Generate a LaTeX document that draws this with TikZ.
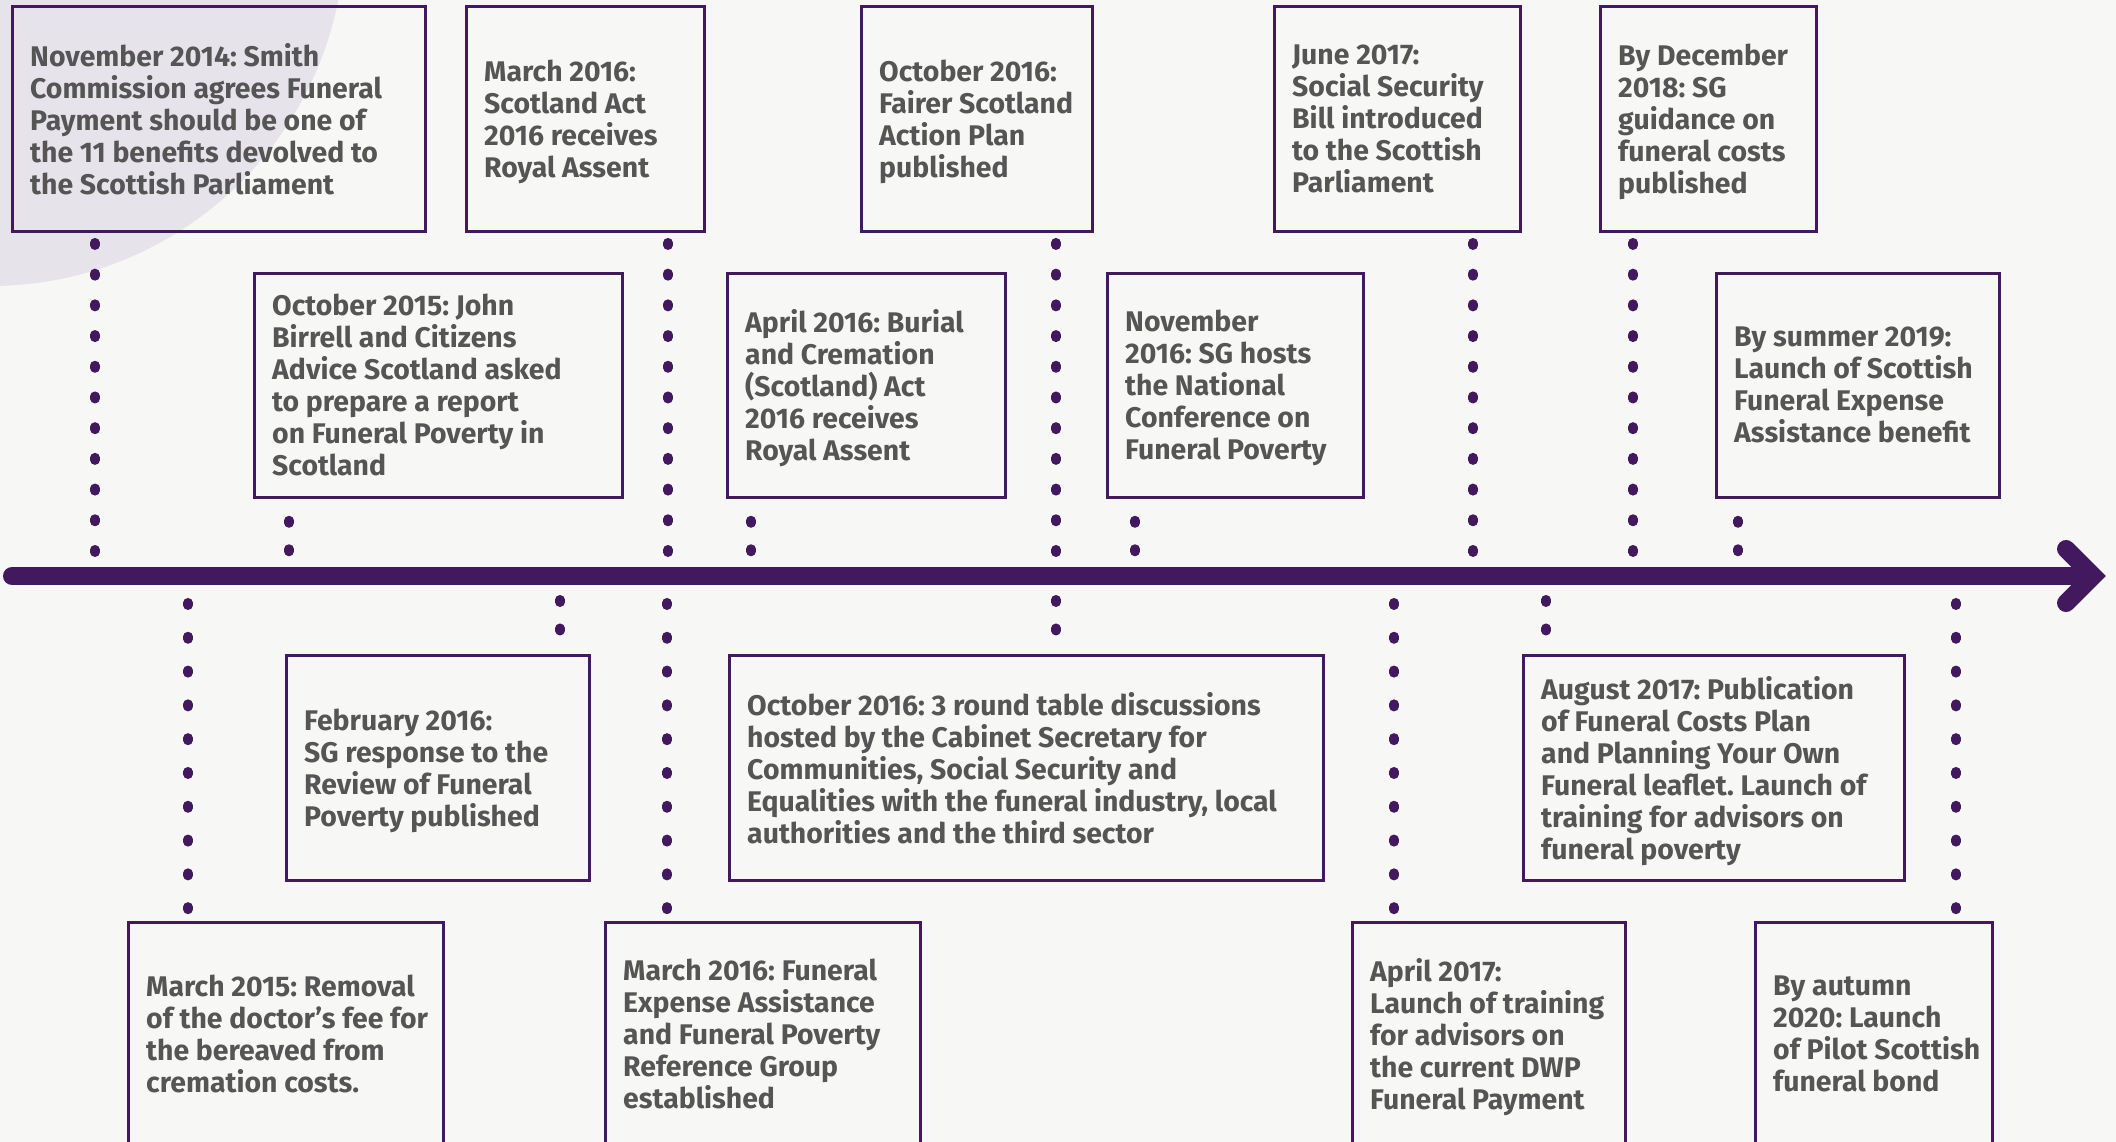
\documentclass[tikz,border=0pt]{standalone}
\usepackage{fontspec}
\setmainfont{Fira Sans}
\definecolor{pur}{RGB}{66,25,94}
\definecolor{bgc}{RGB}{247,247,245}
\definecolor{lav}{RGB}{231,227,235}
\definecolor{txt}{RGB}{85,85,85}
\begin{document}
\frenchspacing
\begin{tikzpicture}[x=1pt,y=-1pt,
  evbox/.style={draw=pur, line width=3pt, outer sep=0pt, inner sep=0pt},
  evtext/.style={anchor=west, inner sep=0pt, align=left, text=txt,
    font=\fontsize{28.4}{32}\selectfont\bfseries},
  dotA/.style={draw=pur, line width=9.5pt, line cap=round, dash pattern=on 2.5pt off 28.2pt},
  dotB/.style={draw=pur, line width=9.5pt, line cap=round, dash pattern=on 2.5pt off 31.3pt},
  dotS/.style={draw=pur, line width=9.5pt, line cap=round, dash pattern=on 2.5pt off 26pt},
  mainline/.style={draw=pur, line width=18pt, line cap=round, line join=miter}]
\useasboundingbox (0,0) rectangle (2116,1142);
\begin{scope}
\clip (0,0) rectangle (2116,1142);
\fill[bgc] (0,0) rectangle (2116,1142);
\fill[lav] (-10,-69) circle (355pt);

% boxes row 1
\node[evbox, minimum width=413pt, minimum height=224pt] (b1) at (218.5,119) {};
\node[evbox, minimum width=238pt, minimum height=224pt] (b2) at (585,119) {};
\node[evbox, minimum width=231pt, minimum height=224pt] (b3) at (976.5,119) {};
\node[evbox, minimum width=246pt, minimum height=224pt] (b4) at (1397,119) {};
\node[evbox, minimum width=216pt, minimum height=224pt] (b5) at (1708,119) {};
% row 2
\node[evbox, minimum width=368pt, minimum height=224pt] (b6) at (438,385) {};
\node[evbox, minimum width=278pt, minimum height=224pt] (b7) at (866,385) {};
\node[evbox, minimum width=256pt, minimum height=224pt] (b8) at (1235,385) {};
\node[evbox, minimum width=283pt, minimum height=224pt] (b9) at (1857.5,385) {};
% row 3
\node[evbox, minimum width=303pt, minimum height=225pt] (b10) at (437.5,767.5) {};
\node[evbox, minimum width=594pt, minimum height=225pt] (b11) at (1026,767.5) {};
\node[evbox, minimum width=381pt, minimum height=225pt] (b12) at (1713.5,767.5) {};
% row 4
\node[evbox, minimum width=315pt, minimum height=224pt] (b13) at (285.5,1034) {};
\node[evbox, minimum width=315pt, minimum height=224pt] (b14) at (762.5,1034) {};
\node[evbox, minimum width=273pt, minimum height=224pt] (b15) at (1488.5,1034) {};
\node[evbox, minimum width=237pt, minimum height=224pt] (b16) at (1873.5,1034) {};

% texts
\node[evtext] (t1) at ([xshift=18pt]b1.west)
 {November 2014: Smith\\Commission agrees Funeral\\Payment should be one of\\the 11 benefits devolved to\\\smash{the Scottish Parliament}};
\node[evtext] (t2) at ([xshift=18pt]b2.west)
 {March 2016:\\Scotland Act\\2016 receives\\\smash{Royal Assent}};
\node[evtext] (t3) at ([xshift=18pt]b3.west)
 {October 2016:\\Fairer Scotland\\Action Plan\\\smash{published}};
\node[evtext] (t4) at ([xshift=18pt]b4.west)
 {June 2017:\\Social Security\\Bill introduced\\to the Scottish\\\smash{Parliament}};
\node[evtext] (t5) at ([xshift=18pt]b5.west)
 {By December\\2018: SG\\guidance on\\funeral costs\\\smash{published}};
\node[evtext] (t6) at ([xshift=18pt]b6.west)
 {October 2015: John\\Birrell and Citizens\\Advice Scotland asked\\to prepare a report\\on Funeral Poverty in\\\smash{Scotland}};
\node[evtext] (t7) at ([xshift=18pt]b7.west)
 {April 2016: Burial\\and Cremation\\(Scotland) Act\\2016 receives\\\smash{Royal Assent}};
\node[evtext] (t8) at ([xshift=18pt]b8.west)
 {November\\2016: SG hosts\\the National\\Conference on\\\smash{Funeral Poverty}};
\node[evtext] (t9) at ([xshift=18pt]b9.west)
 {By summer 2019:\\Launch of Scottish\\Funeral Expense\\\smash{Assistance benefit}};
\node[evtext] (t10) at ([xshift=18pt]b10.west)
 {February 2016:\\SG response to the\\Review of Funeral\\\smash{Poverty published}};
\node[evtext] (t11) at ([xshift=18pt]b11.west)
 {October 2016: 3 round table discussions\\hosted by the Cabinet Secretary for\\Communities, Social Security and\\Equalities with the funeral industry, local\\\smash{authorities and the third sector}};
\node[evtext] (t12) at ([xshift=18pt]b12.west)
 {August 2017: Publication\\of Funeral Costs Plan\\and Planning Your Own\\Funeral leaflet. Launch of\\training for advisors on\\\smash{funeral poverty}};
\node[evtext] (t13) at ([xshift=18pt]b13.west)
 {March 2015: Removal\\of the doctor’s fee for\\the bereaved from\\\smash{cremation costs.}};
\node[evtext] (t14) at ([xshift=18pt]b14.west)
 {March 2016: Funeral\\Expense Assistance\\and Funeral Poverty\\Reference Group\\\smash{established}};
\node[evtext] (t15) at ([xshift=18pt]b15.west)
 {April 2017:\\Launch of training\\for advisors on\\the current DWP\\\smash{Funeral Payment}};
\node[evtext] (t16) at ([xshift=18pt]b16.west)
 {By autumn\\2020: Launch\\of Pilot Scottish\\\smash{funeral bond}};

% timeline
\coordinate (L) at (12,576);
\coordinate (R) at (2092,576);
\coordinate (tip) at (2093,576);
\coordinate (armU) at (2066,549);
\coordinate (armD) at (2066,603);
\draw[mainline] (L) -- (R);
\draw[mainline] (armU) -- (tip) -- (armD);

% points on the timeline
\foreach \n/\x in {p1/95,p2/668,p3/1056,p4/1473,p5/1633,p6/289,p7/751,p8/1135,p9/1738,
  q10/560,q11/1056,q12/1546,q13/188,q14/667,q15/1394,q16/1956}
  \coordinate (\n) at (\x,576);

% connectors above
\foreach \b/\p in {b1/p1,b2/p2,b3/p3,b4/p4,b5/p5}
  \draw[dotA, shorten <=11.7pt, shorten >=22pt] (\b.south -| \p) -- (\p);
\foreach \b/\p in {b6/p6,b7/p7,b8/p8,b9/p9}
  \draw[dotS, shorten <=23.5pt, shorten >=22pt] (\b.south -| \p) -- (\p);
% connectors below
\foreach \b/\p in {b13/q13,b14/q14,b15/q15,b16/q16}
  \draw[dotB, shorten <=26.7pt, shorten >=11pt] (\p) -- (\b.north -| \p);
\foreach \b/\p in {b10/q10,b11/q11,b12/q12}
  \draw[dotS, shorten <=23.7pt, shorten >=23pt] (\p) -- (\b.north -| \p);
\end{scope}
\end{tikzpicture}
\end{document}
